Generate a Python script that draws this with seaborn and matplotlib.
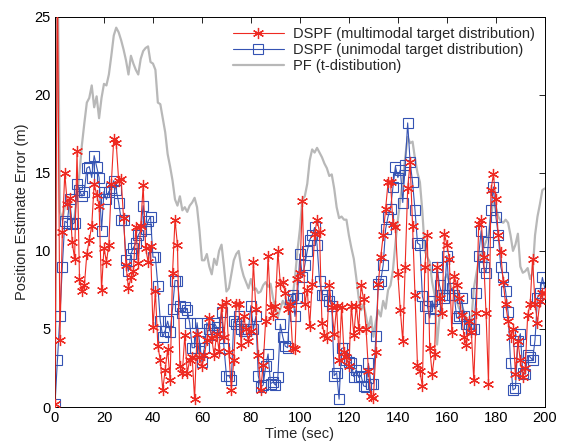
import numpy as np
import pandas as pd
import seaborn as sns
import matplotlib
matplotlib.use("Agg")
import matplotlib.pyplot as plt

# time axis, one sample per second
time_sec = list(range(0, 201))

# DSPF (multimodal target distribution)
dspf_multi = [
    0.2, 28.0, 4.3, 11.2, 15.0, 13.0, 13.4, 10.6, 9.5, 16.4,
    8.2, 7.4, 7.8, 9.8, 10.7, 11.6, 14.3, 13.6, 12.9, 7.5,
    10.2, 9.3, 10.4, 14.3, 17.2, 16.9, 14.5, 14.6, 12.1, 9.1,
    7.6, 8.3, 8.7, 11.5, 9.2, 11.6, 14.2, 10.2, 9.3, 10.3,
    5.1, 7.4, 3.9, 3.0, 1.1, 2.4, 3.7, 1.7, 8.6, 12.0,
    10.4, 2.6, 2.2, 4.6, 2.2, 3.0, 3.2, 0.5, 4.7, 3.2,
    2.6, 3.3, 4.3, 5.7, 4.4, 3.3, 4.7, 3.6, 6.5, 4.5,
    6.7, 3.5, 1.1, 3.0, 6.6, 6.6, 4.0, 5.8, 5.0, 4.2,
    4.9, 9.3, 6.3, 3.3, 1.1, 2.7, 5.5, 9.7, 6.4, 5.9,
    6.5, 10.0, 7.9, 8.0, 7.3, 6.3, 6.6, 3.8, 3.7, 8.2,
    8.6, 13.2, 6.6, 7.5, 5.2, 7.9, 11.1, 12.0, 11.2, 5.4,
    4.6, 4.4, 7.8, 6.4, 4.7, 6.5, 3.0, 6.4, 3.5, 3.2,
    2.6, 6.5, 4.6, 6.5, 5.0, 7.8, 6.9, 5.0, 2.3, 0.7,
    0.6, 3.5, 7.9, 9.6, 11.0, 12.7, 14.4, 14.4, 11.7, 11.5,
    8.5, 6.2, 4.2, 9.0, 14.0, 15.7, 11.6, 7.2, 2.7, 2.3,
    1.35, 9.0, 11.0, 3.8, 2.1, 3.4, 9.0, 7.0, 6.0, 11.1,
    10.4, 9.5, 4.8, 8.4, 7.8, 7.0, 5.9, 4.5, 4.0, 5.5,
    4.8, 1.7, 6.0, 11.7, 12.0, 9.6, 6.0, 1.5, 13.9, 14.9,
    13.3, 11.0, 9.9, 8.0, 6.6, 5.5, 4.5, 5.0, 2.1, 4.2,
    3.0, 1.9, 2.5, 5.9, 6.6, 9.5, 6.6, 5.4, 6.8, 7.3,
    7.3,
]

# DSPF (unimodal target distribution)
dspf_uni = [
    0.2, 3.0, 5.8, 9.0, 11.9, 11.8, 13.3, 11.7, 11.8, 14.3,
    13.9, 13.5, 13.8, 15.3, 15.4, 14.7, 16.1, 15.4, 14.7, 11.3,
    13.8, 13.3, 13.8, 14.0, 14.5, 13.9, 13.1, 12.0, 12.0, 9.4,
    8.7, 9.8, 10.2, 10.5, 11.0, 11.3, 12.9, 11.4, 11.9, 12.2,
    9.6, 9.6, 7.75, 5.5, 4.5, 4.9, 5.5, 4.8, 6.3, 8.1,
    8.1, 6.5, 6.0, 6.4, 6.2, 5.4, 3.8, 3.8, 5.4, 4.2,
    2.9, 3.8, 5.4, 5.0, 4.6, 5.4, 5.1, 4.8, 6.1, 3.8,
    2.0, 2.0, 1.7, 5.5, 5.3, 5.8, 5.0, 4.9, 4.9, 5.0,
    6.5, 5.0, 5.8, 2.0, 1.3, 1.4, 2.6, 3.4, 1.5, 1.6,
    1.4, 1.9, 5.3, 4.5, 3.9, 3.8, 6.9, 7.2, 5.8, 7.0,
    9.8, 8.3, 9.1, 10.0, 10.7, 11.0, 11.5, 10.4, 8.1, 7.2,
    7.2, 7.2, 6.8, 6.5, 2.0, 2.2, 0.5, 3.75, 3.8, 3.0,
    2.9, 2.8, 1.95, 2.4, 1.9, 2.0, 1.35, 1.3, 2.8, 1.5,
    1.5, 4.55, 7.9, 8.1, 9.1, 11.4, 12.2, 12.7, 14.1, 15.4,
    14.7, 15.2, 13.1, 15.5, 18.2, 15.7, 14.4, 12.6, 10.5, 10.4,
    7.1, 6.5, 6.5, 5.7, 6.8, 6.3, 9.0, 7.8, 7.2, 7.0,
    9.7, 7.2, 7.6, 7.2, 5.7, 5.8, 7.0, 5.8, 5.3, 5.3,
    5.0, 5.0, 7.3, 9.7, 11.3, 9.0, 8.6, 10.6, 12.6, 14.1,
    12.2, 11.0, 9.0, 8.3, 7.4, 6.1, 2.85, 1.1, 1.2, 4.2,
    4.7, 2.2, 2.1, 3.3, 3.2, 3.0, 4.3, 7.0, 7.3, 8.3,
    7.6,
]

# PF (t-distribution)
pf_t = [
    0.5, 30.0, 12.5, 12.0, 12.8, 13.2, 12.5, 11.8, 12.2, 13.5,
    15.0, 16.8, 18.2, 19.5, 19.8, 20.6, 19.2, 19.9, 18.5, 19.8,
    20.7, 20.6, 21.3, 22.5, 23.8, 24.3, 24.0, 23.5, 22.9, 22.2,
    21.3, 22.5, 22.0, 21.6, 21.3, 22.3, 22.8, 23.0, 23.1, 22.1,
    22.0, 21.6, 19.5, 19.4, 18.5, 17.6, 16.2, 15.4, 14.5, 13.3,
    12.9, 13.5, 12.6, 12.8, 12.5, 12.9, 13.1, 13.4, 12.8, 11.3,
    9.4, 9.4, 9.8, 9.0, 8.5, 9.5, 9.1, 10.0, 10.4, 9.0,
    7.4, 7.6, 8.5, 9.4, 9.8, 10.0, 9.0, 8.4, 8.0, 7.6,
    8.2, 7.5, 7.6, 7.3, 7.4, 7.8, 8.0, 7.7, 7.9, 7.0,
    6.4, 5.8, 6.3, 6.8, 6.5, 6.8, 6.2, 7.0, 8.3, 10.0,
    11.4, 13.3, 13.5, 14.3, 15.8, 16.5, 16.3, 16.6, 16.3, 16.0,
    15.6, 15.3, 14.8, 14.9, 14.0, 12.8, 12.1, 12.2, 12.0, 12.0,
    11.0, 10.2, 9.5, 8.3, 7.0, 6.2, 6.6, 5.8, 5.0, 5.8,
    4.5, 5.5, 6.2, 5.8, 6.8, 6.3, 7.5, 7.8, 8.8, 10.5,
    12.0, 13.3, 14.5, 16.0, 17.3, 16.9, 17.0, 15.9, 15.0, 14.4,
    12.5, 10.0, 9.6, 9.3, 8.0, 7.2, 4.0, 5.8, 7.0, 8.2,
    8.5, 8.0, 7.6, 7.4, 6.8, 6.3, 6.5, 6.1, 5.7, 4.9,
    5.5, 7.6, 8.5, 9.4, 9.8, 10.2, 10.6, 11.0, 12.2, 13.2,
    12.8, 12.2, 11.9, 11.8, 12.0, 11.8, 11.0, 10.0, 10.4, 11.1,
    9.0, 8.6, 8.7, 8.9, 8.2, 8.6, 11.0, 12.2, 13.0, 13.9,
    14.0,
]

sns.set_theme(style="white")
plt.rcParams["font.family"] = ["Liberation Sans", "DejaVu Sans"]
plt.rcParams["xtick.direction"] = "in"
plt.rcParams["ytick.direction"] = "in"

fig = plt.figure(figsize=(5.64, 4.44), dpi=100)
ax = fig.add_axes([0.0975, 0.0833, 0.8685, 0.879])

sns.lineplot(x=time_sec, y=pf_t, ax=ax, color="#b8b8b8", linewidth=1.6,
             label="PF (t-distibution)", zorder=1)
sns.lineplot(x=time_sec, y=dspf_uni, ax=ax, color="#3553b3", linewidth=0.8,
             marker="s", markersize=6.5, markerfacecolor="none",
             markeredgecolor="#3553b3", markeredgewidth=0.8,
             label="DSPF (unimodal target distribution)", zorder=2)
# asterisk markers like the MATLAB '*'
sns.lineplot(x=time_sec, y=dspf_multi, ax=ax, color="#ee2a22", linewidth=0.8,
             marker=(6, 2, 0), markersize=8, markeredgewidth=0.9,
             markeredgecolor="#ee2a22",
             label="DSPF (multimodal target distribution)", zorder=3)

ax.set_xlim(0, 200)
ax.set_ylim(0, 25)
ax.set_xticks(range(0, 201, 20))
ax.set_yticks(range(0, 26, 5))
ax.tick_params(axis="both", labelsize=10.5, length=4, width=0.6, colors="black",
               top=True, right=True, pad=3)
for sp in ax.spines.values():
    sp.set_color("black")
    sp.set_linewidth(0.7)

ax.set_xlabel("Time (sec)", fontsize=10.5, labelpad=1)
ax.set_ylabel("Position Estimate Error (m)", fontsize=10.5, labelpad=4)

handles, labels = ax.get_legend_handles_labels()
order = [2, 1, 0]
ax.legend([handles[i] for i in order], [labels[i] for i in order],
          loc="upper right", frameon=False, fontsize=10.5, handlelength=3.5,
          borderaxespad=0.3, labelspacing=0.15, handletextpad=0.6)

fig.savefig("out.png", dpi=100)
